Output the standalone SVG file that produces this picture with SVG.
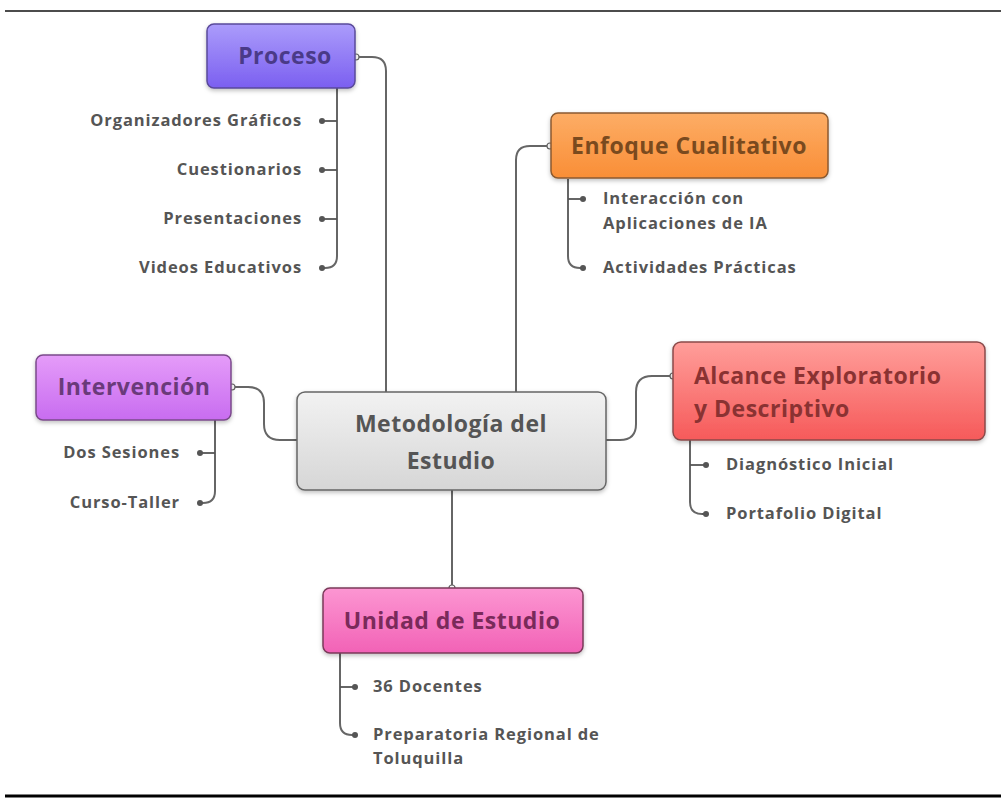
<svg xmlns="http://www.w3.org/2000/svg" width="1001" height="798" viewBox="0 0 1001 798">
<defs>
<linearGradient id="gP" x1="0" y1="0" x2="0" y2="1"><stop offset="0" stop-color="#ab9cfb"/><stop offset="1" stop-color="#7b5ff0"/></linearGradient>
<linearGradient id="gE" x1="0" y1="0" x2="0" y2="1"><stop offset="0" stop-color="#fdad66"/><stop offset="1" stop-color="#f98e36"/></linearGradient>
<linearGradient id="gA" x1="0" y1="0" x2="0" y2="1"><stop offset="0" stop-color="#ff9e9a"/><stop offset="1" stop-color="#f65a5a"/></linearGradient>
<linearGradient id="gI" x1="0" y1="0" x2="0" y2="1"><stop offset="0" stop-color="#e59cf9"/><stop offset="1" stop-color="#c86cf0"/></linearGradient>
<linearGradient id="gU" x1="0" y1="0" x2="0" y2="1"><stop offset="0" stop-color="#fc96d2"/><stop offset="1" stop-color="#f262b6"/></linearGradient>
<linearGradient id="gC" x1="0" y1="0" x2="0" y2="1"><stop offset="0" stop-color="#f2f2f2"/><stop offset="1" stop-color="#d6d6d6"/></linearGradient>
<filter id="sh" x="-10%" y="-10%" width="120%" height="130%"><feDropShadow dx="0" dy="2" stdDeviation="2" flood-color="#000" flood-opacity="0.25"/></filter>
<marker id="dot" viewBox="0 0 6 6" refX="3" refY="3" markerWidth="4" markerHeight="4"><circle cx="3" cy="3" r="2.5" fill="#555"/></marker>
</defs>
<style>
.box{stroke-width:1.5;filter:url(#sh)}
.t{font-family:"Open Sans","Liberation Sans",sans-serif;font-weight:700}
.head{font-size:23px;letter-spacing:0.5px}
.leaf{font-size:16.5px;letter-spacing:0.9px;fill:#555}
.ln{fill:none;stroke:#666;stroke-width:2}
.br{fill:none;stroke:#555;stroke-width:1.8;marker-end:url(#dot)}
.port{fill:#fff;stroke:#666;stroke-width:1.2}
</style>
<rect width="1001" height="798" fill="#fff"/>
<line x1="5" y1="11" x2="1001" y2="11" stroke="#111" stroke-width="1.5"/>
<line x1="5" y1="796" x2="1001" y2="796" stroke="#000" stroke-width="3"/>

<g id="connectors">
<path class="ln" d="M357,57 H372 Q386,57 386,71 V392"/>
<path class="ln" d="M550,146 H530 Q516,146 516,160 V392"/>
<path class="ln" d="M233,387 H248 Q264,387 264,403 V424 Q264,440 280,440 H297"/>
<path class="ln" d="M606,440 H620 Q636,440 636,424 V392 Q636,376 652,376 H673"/>
<path class="ln" d="M452,490 V588"/>
<path class="ln" d="M337,88 V256 Q337,268 325,268 H320"/>
<path class="br" d="M337,121 H322"/><path class="br" d="M337,170 H322"/><path class="br" d="M337,219 H322"/><path class="br" d="M325,268 H322"/>
<path class="ln" d="M568,179 V256 Q568,268 580,268 H583"/>
<path class="br" d="M568,199 H583"/><path class="br" d="M580,268 H583"/>
<path class="ln" d="M215,420 V491 Q215,503 203,503 H200"/>
<path class="br" d="M215,453 H200"/><path class="br" d="M203,503 H200"/>
<path class="ln" d="M690,440 V502 Q690,514 702,514 H706"/>
<path class="br" d="M690,465 H706"/><path class="br" d="M702,514 H706"/>
<path class="ln" d="M340,653 V723 Q340,735 352,735 H355"/>
<path class="br" d="M340,687 H355"/><path class="br" d="M352,735 H355"/>
<circle class="port" cx="356" cy="57" r="3"/>
<circle class="port" cx="550" cy="146" r="3"/>
<circle class="port" cx="232" cy="387" r="3"/>
<circle class="port" cx="673" cy="376" r="3"/>
<circle class="port" cx="452" cy="588" r="3"/>
</g>

<g id="proceso">
<rect class="box" x="207" y="24" width="148" height="64" rx="7" fill="url(#gP)" stroke="#5a4a9a"/>
<text class="t head" x="285" y="64" text-anchor="middle" fill="#4a3a88">Proceso</text>
</g>
<g id="proceso-items" class="t leaf" text-anchor="end">
<text x="302" y="126">Organizadores Gráficos</text>
<text x="302" y="175">Cuestionarios</text>
<text x="302" y="224">Presentaciones</text>
<text x="302" y="273">Videos Educativos</text>
</g>

<g id="enfoque">
<rect class="box" x="551" y="113" width="277" height="65" rx="7" fill="url(#gE)" stroke="#8a5a30"/>
<text class="t head" x="689" y="154" text-anchor="middle" fill="#7a4a1e">Enfoque Cualitativo</text>
</g>
<g id="enfoque-items" class="t leaf">
<text x="603" y="204">Interacción con</text>
<text x="603" y="229">Aplicaciones de IA</text>
<text x="603" y="273">Actividades Prácticas</text>
</g>

<g id="intervencion">
<rect class="box" x="36" y="355" width="195" height="65" rx="7" fill="url(#gI)" stroke="#7a4a8a"/>
<text class="t head" x="134" y="395" text-anchor="middle" fill="#6a3a7a">Intervención</text>
</g>
<g id="intervencion-items" class="t leaf" text-anchor="end">
<text x="180" y="458">Dos Sesiones</text>
<text x="180" y="508">Curso-Taller</text>
</g>

<g id="central">
<rect class="box" x="297" y="392" width="309" height="98" rx="8" fill="url(#gC)" stroke="#666"/>
<text class="t head" x="451" y="432" text-anchor="middle" fill="#555">Metodología del</text>
<text class="t head" x="451" y="469" text-anchor="middle" fill="#555">Estudio</text>
</g>

<g id="alcance">
<rect class="box" x="673" y="342" width="312" height="98" rx="8" fill="url(#gA)" stroke="#8a4a4a"/>
<text class="t head" x="694" y="384" fill="#8a3232">Alcance Exploratorio</text>
<text class="t head" x="694" y="417" fill="#8a3232">y Descriptivo</text>
</g>
<g id="alcance-items" class="t leaf">
<text x="726" y="470">Diagnóstico Inicial</text>
<text x="726" y="519">Portafolio Digital</text>
</g>

<g id="unidad">
<rect class="box" x="323" y="588" width="260" height="65" rx="7" fill="url(#gU)" stroke="#7a3a5a"/>
<text class="t head" x="452" y="629" text-anchor="middle" fill="#7a2a5a">Unidad de Estudio</text>
</g>
<g id="unidad-items" class="t leaf">
<text x="373" y="692">36 Docentes</text>
<text x="373" y="740">Preparatoria Regional de</text>
<text x="373" y="764">Toluquilla</text>
</g>
</svg>
